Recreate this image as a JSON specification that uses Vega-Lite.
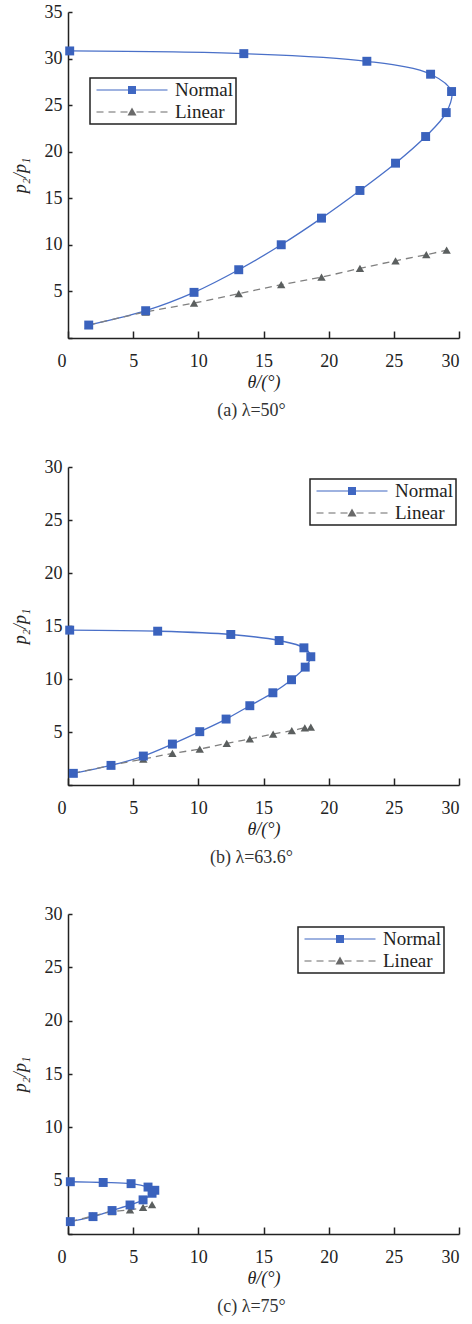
{
  "$schema": "https://vega.github.io/schema/vega-lite/v6.json",
  "padding": {"left": 11, "top": 3, "right": 4, "bottom": 5},
  "spacing": 38,
  "resolve": {"scale": {"color": "independent", "shape": "independent"}, "legend": {"color": "independent", "shape": "independent"}},
  "config": {
    "view": {"stroke": null},
    "font": "Liberation Serif",
    "axis": {
      "grid": false,
      "domainColor": "#222222",
      "domainWidth": 1.5,
      "tickColor": "#222222",
      "tickWidth": 1.5,
      "labelFont": "Liberation Serif",
      "labelFontSize": 18,
      "labelColor": "#222222",
      "titleFont": "Liberation Serif",
      "titleFontSize": 18,
      "titleFontWeight": "normal",
      "titleFontStyle": "italic",
      "titleColor": "#222222"
    },
    "axisX": {"tickSize": -7, "labelPadding": 21, "titlePadding": 3},
    "axisY": {"tickSize": -4, "labelPadding": 10, "titlePadding": 15},
    "legend": {
      "orient": "none",
      "title": null,
      "strokeColor": "#222222",
      "strokeWidth": 1.5,
      "padding": 2,
      "rowPadding": 2,
      "labelFont": "Liberation Serif",
      "labelFontSize": 19,
      "labelColor": "#222222",
      "symbolSize": 400,
      "symbolOffset": 30,
      "labelOffset": 33,
      "symbolOpacity": 1,
      "symbolStrokeWidth": 0
    },
    "title": {"font": "Liberation Serif", "fontSize": 18, "fontWeight": "normal", "color": "#333333", "orient": "bottom", "anchor": "middle", "offset": 11, "dx": -12}
  },
  "data": {"values": [
    {"panel": "a", "series": "Normal", "idx": 0, "theta": 0.13, "ratio": 30.82},
    {"panel": "a", "series": "Normal", "idx": 1, "theta": 13.49, "ratio": 30.53},
    {"panel": "a", "series": "Normal", "idx": 2, "theta": 22.93, "ratio": 29.71},
    {"panel": "a", "series": "Normal", "idx": 3, "theta": 27.82, "ratio": 28.32},
    {"panel": "a", "series": "Normal", "idx": 4, "theta": 29.43, "ratio": 26.46},
    {"panel": "a", "series": "Normal", "idx": 5, "theta": 29.02, "ratio": 24.2},
    {"panel": "a", "series": "Normal", "idx": 6, "theta": 27.44, "ratio": 21.63},
    {"panel": "a", "series": "Normal", "idx": 7, "theta": 25.13, "ratio": 18.77},
    {"panel": "a", "series": "Normal", "idx": 8, "theta": 22.4, "ratio": 15.84},
    {"panel": "a", "series": "Normal", "idx": 9, "theta": 19.45, "ratio": 12.87},
    {"panel": "a", "series": "Normal", "idx": 10, "theta": 16.36, "ratio": 10.01},
    {"panel": "a", "series": "Normal", "idx": 11, "theta": 13.1, "ratio": 7.33},
    {"panel": "a", "series": "Normal", "idx": 12, "theta": 9.67, "ratio": 4.9},
    {"panel": "a", "series": "Normal", "idx": 13, "theta": 5.96, "ratio": 2.93},
    {"panel": "a", "series": "Normal", "idx": 14, "theta": 1.59, "ratio": 1.39},
    {"panel": "a", "series": "Linear", "idx": 0, "theta": 1.59, "ratio": 1.39},
    {"panel": "a", "series": "Linear", "idx": 1, "theta": 5.96, "ratio": 2.79},
    {"panel": "a", "series": "Linear", "idx": 2, "theta": 9.67, "ratio": 3.75},
    {"panel": "a", "series": "Linear", "idx": 3, "theta": 13.1, "ratio": 4.76},
    {"panel": "a", "series": "Linear", "idx": 4, "theta": 16.36, "ratio": 5.72},
    {"panel": "a", "series": "Linear", "idx": 5, "theta": 19.45, "ratio": 6.54},
    {"panel": "a", "series": "Linear", "idx": 6, "theta": 22.4, "ratio": 7.47},
    {"panel": "a", "series": "Linear", "idx": 7, "theta": 25.13, "ratio": 8.29},
    {"panel": "a", "series": "Linear", "idx": 8, "theta": 27.49, "ratio": 8.94},
    {"panel": "a", "series": "Linear", "idx": 9, "theta": 29.05, "ratio": 9.44},
    {"panel": "b", "series": "Normal", "idx": 0, "theta": 0.13, "ratio": 14.61},
    {"panel": "b", "series": "Normal", "idx": 1, "theta": 6.88, "ratio": 14.51},
    {"panel": "b", "series": "Normal", "idx": 2, "theta": 12.49, "ratio": 14.2},
    {"panel": "b", "series": "Normal", "idx": 3, "theta": 16.2, "ratio": 13.63},
    {"panel": "b", "series": "Normal", "idx": 4, "theta": 18.1, "ratio": 12.94},
    {"panel": "b", "series": "Normal", "idx": 5, "theta": 18.63, "ratio": 12.1},
    {"panel": "b", "series": "Normal", "idx": 6, "theta": 18.2, "ratio": 11.12},
    {"panel": "b", "series": "Normal", "idx": 7, "theta": 17.15, "ratio": 9.93},
    {"panel": "b", "series": "Normal", "idx": 8, "theta": 15.72, "ratio": 8.7},
    {"panel": "b", "series": "Normal", "idx": 9, "theta": 13.95, "ratio": 7.48},
    {"panel": "b", "series": "Normal", "idx": 10, "theta": 12.13, "ratio": 6.22},
    {"panel": "b", "series": "Normal", "idx": 11, "theta": 10.11, "ratio": 5.03},
    {"panel": "b", "series": "Normal", "idx": 12, "theta": 8.01, "ratio": 3.86},
    {"panel": "b", "series": "Normal", "idx": 13, "theta": 5.78, "ratio": 2.73},
    {"panel": "b", "series": "Normal", "idx": 14, "theta": 3.3, "ratio": 1.85},
    {"panel": "b", "series": "Normal", "idx": 15, "theta": 0.41, "ratio": 1.1},
    {"panel": "b", "series": "Linear", "idx": 0, "theta": 0.41, "ratio": 1.1},
    {"panel": "b", "series": "Linear", "idx": 1, "theta": 3.3, "ratio": 1.85},
    {"panel": "b", "series": "Linear", "idx": 2, "theta": 5.78, "ratio": 2.45},
    {"panel": "b", "series": "Linear", "idx": 3, "theta": 8.01, "ratio": 2.98},
    {"panel": "b", "series": "Linear", "idx": 4, "theta": 10.11, "ratio": 3.39},
    {"panel": "b", "series": "Linear", "idx": 5, "theta": 12.18, "ratio": 3.93},
    {"panel": "b", "series": "Linear", "idx": 6, "theta": 13.95, "ratio": 4.34},
    {"panel": "b", "series": "Linear", "idx": 7, "theta": 15.74, "ratio": 4.81},
    {"panel": "b", "series": "Linear", "idx": 8, "theta": 17.17, "ratio": 5.12},
    {"panel": "b", "series": "Linear", "idx": 9, "theta": 18.17, "ratio": 5.4},
    {"panel": "b", "series": "Linear", "idx": 10, "theta": 18.63, "ratio": 5.47},
    {"panel": "c", "series": "Normal", "idx": 0, "theta": 0.18, "ratio": 4.9},
    {"panel": "c", "series": "Normal", "idx": 1, "theta": 2.7, "ratio": 4.83},
    {"panel": "c", "series": "Normal", "idx": 2, "theta": 4.84, "ratio": 4.72},
    {"panel": "c", "series": "Normal", "idx": 3, "theta": 6.14, "ratio": 4.4},
    {"panel": "c", "series": "Normal", "idx": 4, "theta": 6.66, "ratio": 4.1},
    {"panel": "c", "series": "Normal", "idx": 5, "theta": 6.45, "ratio": 3.82},
    {"panel": "c", "series": "Normal", "idx": 6, "theta": 5.76, "ratio": 3.2},
    {"panel": "c", "series": "Normal", "idx": 7, "theta": 4.76, "ratio": 2.72},
    {"panel": "c", "series": "Normal", "idx": 8, "theta": 3.38, "ratio": 2.2},
    {"panel": "c", "series": "Normal", "idx": 9, "theta": 1.92, "ratio": 1.63},
    {"panel": "c", "series": "Normal", "idx": 10, "theta": 0.18, "ratio": 1.16},
    {"panel": "c", "series": "Linear", "idx": 0, "theta": 0.18, "ratio": 1.16},
    {"panel": "c", "series": "Linear", "idx": 1, "theta": 1.9, "ratio": 1.69},
    {"panel": "c", "series": "Linear", "idx": 2, "theta": 3.38, "ratio": 2.1},
    {"panel": "c", "series": "Linear", "idx": 3, "theta": 4.76, "ratio": 2.26},
    {"panel": "c", "series": "Linear", "idx": 4, "theta": 5.76, "ratio": 2.5},
    {"panel": "c", "series": "Linear", "idx": 5, "theta": 6.45, "ratio": 2.76}
  ]},
  "vconcat": [
    {
      "title": {"text": "(a) λ=50°"},
      "width": 391, "height": 326,
      "transform": [{"filter": "datum.panel == 'a'"}],
      "encoding": {
        "x": {"field": "theta", "type": "quantitative", "scale": {"domain": [0, 30], "nice": false}, "axis": {"title": "θ/(°)", "values": [0, 5, 10, 15, 20, 25, 30], "labelOffset": {"expr": "datum.value == 0 ? -11 : 0"}}},
        "y": {"field": "ratio", "type": "quantitative", "scale": {"domain": [0, 35], "nice": false}, "axis": {"title": "p₂/p₁", "values": [0, 5, 10, 15, 20, 25, 30, 35], "labelExpr": "datum.value == 0 ? '' : datum.label"}}
      },
      "layer": [
        {"transform": [{"filter": "datum.series == 'Normal'"}], "mark": {"type": "line", "interpolate": "catmull-rom", "color": "#4a70c8", "strokeWidth": 1.3}, "encoding": {"order": {"field": "idx", "type": "quantitative"}}},
        {"transform": [{"filter": "datum.series == 'Linear'"}], "mark": {"type": "line", "interpolate": "catmull-rom", "color": "#808080", "strokeWidth": 1.3, "strokeDash": [7, 5]}, "encoding": {"order": {"field": "idx", "type": "quantitative"}}},
        {"transform": [{"filter": "datum.series == 'Linear'"}], "mark": {"type": "point", "shape": "triangle-up", "filled": true, "opacity": 1, "color": "#5b5f5f", "size": 70}},
        {"transform": [{"filter": "datum.series == 'Normal'"}], "mark": {"type": "square", "filled": true, "opacity": 1, "color": "#3a62bd", "size": 80}},
        {"mark": {"type": "point", "filled": true, "opacity": 0},
         "encoding": {
           "color": {"field": "series", "type": "nominal", "scale": {"domain": ["Normal", "Linear"], "range": ["#3f67c2", "#6a6a6a"]}, "legend": {"legendX": 22, "legendY": 66}},
           "shape": {"field": "series", "type": "nominal", "scale": {"domain": ["Normal", "Linear"], "range": ["M-3.55,-0.06H3.55V0.06H-3.55Z M-0.4,-0.4H0.4V0.4H-0.4Z", "M-3.55,-0.06H-2.85V0.06H-3.55Z M-2.35,-0.06H-1.65V0.06H-2.35Z M-1.15,-0.06H-0.45V0.06H-1.15Z M0.45,-0.06H1.15V0.06H0.45Z M1.65,-0.06H2.35V0.06H1.65Z M2.85,-0.06H3.55V0.06H2.85Z M0,-0.45L0.45,0.35H-0.45Z"]}, "legend": {"legendX": 22, "legendY": 66}}
         }}
      ]
    },
    {
      "title": {"text": "(b) λ=63.6°"},
      "width": 391, "height": 318,
      "transform": [{"filter": "datum.panel == 'b'"}],
      "encoding": {
        "x": {"field": "theta", "type": "quantitative", "scale": {"domain": [0, 30], "nice": false}, "axis": {"title": "θ/(°)", "values": [0, 5, 10, 15, 20, 25, 30], "labelOffset": {"expr": "datum.value == 0 ? -11 : 0"}}},
        "y": {"field": "ratio", "type": "quantitative", "scale": {"domain": [0, 30], "nice": false}, "axis": {"title": "p₂/p₁", "values": [0, 5, 10, 15, 20, 25, 30], "labelExpr": "datum.value == 0 ? '' : datum.label"}}
      },
      "layer": [
        {"transform": [{"filter": "datum.series == 'Normal'"}], "mark": {"type": "line", "interpolate": "catmull-rom", "color": "#4a70c8", "strokeWidth": 1.3}, "encoding": {"order": {"field": "idx", "type": "quantitative"}}},
        {"transform": [{"filter": "datum.series == 'Linear'"}], "mark": {"type": "line", "interpolate": "catmull-rom", "color": "#808080", "strokeWidth": 1.3, "strokeDash": [7, 5]}, "encoding": {"order": {"field": "idx", "type": "quantitative"}}},
        {"transform": [{"filter": "datum.series == 'Linear'"}], "mark": {"type": "point", "shape": "triangle-up", "filled": true, "opacity": 1, "color": "#5b5f5f", "size": 70}},
        {"transform": [{"filter": "datum.series == 'Normal'"}], "mark": {"type": "square", "filled": true, "opacity": 1, "color": "#3a62bd", "size": 80}},
        {"mark": {"type": "point", "filled": true, "opacity": 0},
         "encoding": {
           "color": {"field": "series", "type": "nominal", "scale": {"domain": ["Normal", "Linear"], "range": ["#3f67c2", "#6a6a6a"]}, "legend": {"legendX": 242, "legendY": 12}},
           "shape": {"field": "series", "type": "nominal", "scale": {"domain": ["Normal", "Linear"], "range": ["M-3.55,-0.06H3.55V0.06H-3.55Z M-0.4,-0.4H0.4V0.4H-0.4Z", "M-3.55,-0.06H-2.85V0.06H-3.55Z M-2.35,-0.06H-1.65V0.06H-2.35Z M-1.15,-0.06H-0.45V0.06H-1.15Z M0.45,-0.06H1.15V0.06H0.45Z M1.65,-0.06H2.35V0.06H1.65Z M2.85,-0.06H3.55V0.06H2.85Z M0,-0.45L0.45,0.35H-0.45Z"]}, "legend": {"legendX": 242, "legendY": 12}}
         }}
      ]
    },
    {
      "title": {"text": "(c) λ=75°"},
      "width": 391, "height": 320,
      "transform": [{"filter": "datum.panel == 'c'"}],
      "encoding": {
        "x": {"field": "theta", "type": "quantitative", "scale": {"domain": [0, 30], "nice": false}, "axis": {"title": "θ/(°)", "values": [0, 5, 10, 15, 20, 25, 30], "labelOffset": {"expr": "datum.value == 0 ? -11 : 0"}}},
        "y": {"field": "ratio", "type": "quantitative", "scale": {"domain": [0, 30], "nice": false}, "axis": {"title": "p₂/p₁", "values": [0, 5, 10, 15, 20, 25, 30], "labelExpr": "datum.value == 0 ? '' : datum.label"}}
      },
      "layer": [
        {"transform": [{"filter": "datum.series == 'Normal'"}], "mark": {"type": "line", "interpolate": "catmull-rom", "color": "#4a70c8", "strokeWidth": 1.3}, "encoding": {"order": {"field": "idx", "type": "quantitative"}}},
        {"transform": [{"filter": "datum.series == 'Linear'"}], "mark": {"type": "line", "interpolate": "catmull-rom", "color": "#808080", "strokeWidth": 1.3, "strokeDash": [7, 5]}, "encoding": {"order": {"field": "idx", "type": "quantitative"}}},
        {"transform": [{"filter": "datum.series == 'Linear'"}], "mark": {"type": "point", "shape": "triangle-up", "filled": true, "opacity": 1, "color": "#5b5f5f", "size": 70}},
        {"transform": [{"filter": "datum.series == 'Normal'"}], "mark": {"type": "square", "filled": true, "opacity": 1, "color": "#3a62bd", "size": 80}},
        {"mark": {"type": "point", "filled": true, "opacity": 0},
         "encoding": {
           "color": {"field": "series", "type": "nominal", "scale": {"domain": ["Normal", "Linear"], "range": ["#3f67c2", "#6a6a6a"]}, "legend": {"legendX": 230, "legendY": 13}},
           "shape": {"field": "series", "type": "nominal", "scale": {"domain": ["Normal", "Linear"], "range": ["M-3.55,-0.06H3.55V0.06H-3.55Z M-0.4,-0.4H0.4V0.4H-0.4Z", "M-3.55,-0.06H-2.85V0.06H-3.55Z M-2.35,-0.06H-1.65V0.06H-2.35Z M-1.15,-0.06H-0.45V0.06H-1.15Z M0.45,-0.06H1.15V0.06H0.45Z M1.65,-0.06H2.35V0.06H1.65Z M2.85,-0.06H3.55V0.06H2.85Z M0,-0.45L0.45,0.35H-0.45Z"]}, "legend": {"legendX": 230, "legendY": 13}}
         }}
      ]
    }
  ]
}
